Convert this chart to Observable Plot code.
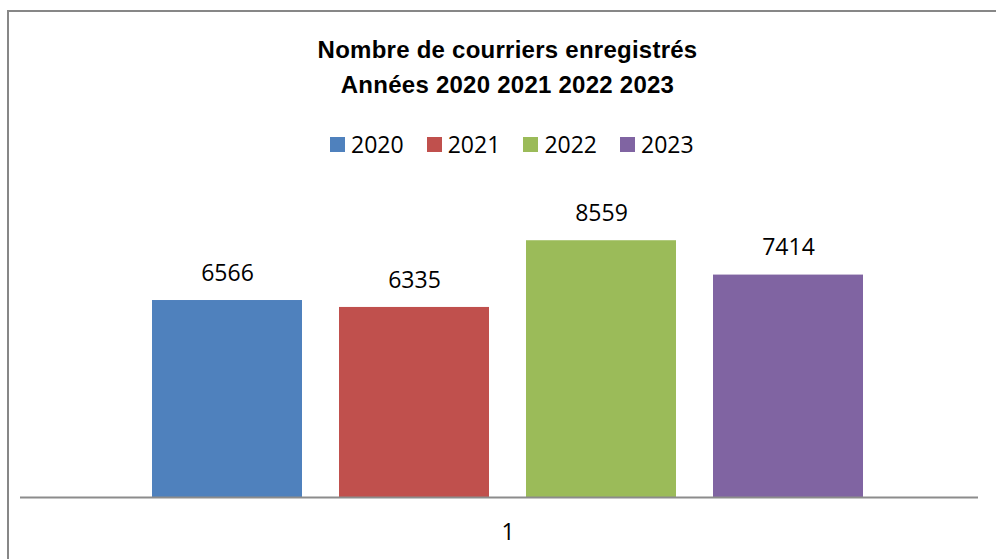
<!DOCTYPE html>
<html>
<head>
<meta charset="utf-8">
<script src="https://cdn.jsdelivr.net/npm/d3@7"></script>
<script src="https://cdn.jsdelivr.net/npm/@observablehq/plot@0.6"></script>
<style>
  html, body { margin: 0; padding: 0; background: #fff; }
  #wrap { position: relative; width: 996px; height: 559px; overflow: hidden; font-family: "Open Sans", "Liberation Sans", sans-serif; }
  #frame { position: absolute; left: 7px; top: 10px; width: 1100px; height: 700px; border: 2px solid #878787; box-sizing: border-box; }
  #title { position: absolute; left: 0; width: 1015px; top: 32px; text-align: center; font-weight: bold; font-size: 24px; line-height: 35px; color: #000; font-family: "Liberation Sans", sans-serif; letter-spacing: 0.25px; }
  #legend { position: absolute; left: 330px; top: 126px; display: flex; font-size: 23px; line-height: 36px; color: #000; }
  #legend .item { display: flex; align-items: center; width: 96.7px; }
  #legend .sw { width: 15px; height: 15px; margin-right: 6px; }
  #chart { position: absolute; left: 0; top: 0; }
</style>
</head>
<body>
<div id="wrap">
  <div id="frame"></div>
  <div id="chart"></div>
  <div id="title">Nombre de courriers enregistrés<br>Années 2020 2021 2022 2023</div>
  <div id="legend"></div>
</div>
<script>
const years = ["2020", "2021", "2022", "2023"];
const values = [6566, 6335, 8559, 7414];
const colors = ["#4F81BD", "#C0504D", "#9BBB59", "#8064A2"];
const categoryLabel = ["1"];

const data = years.map((y, i) => ({year: y, value: values[i]}));

const legend = document.getElementById("legend");
years.forEach((y, i) => {
  const it = document.createElement("div");
  it.className = "item";
  it.innerHTML = `<span class="sw" style="background:${colors[i]}"></span><span>${y}</span>`;
  legend.appendChild(it);
});

const chart = Plot.plot({
  width: 996,
  height: 559,
  marginTop: 197,
  marginBottom: 62,
  marginLeft: 20,
  marginRight: 18,
  style: {fontFamily: "'Open Sans', 'Liberation Sans', sans-serif", background: "transparent"},
  x: {domain: years, range: [113, 902], padding: 0.197, axis: null},
  y: {domain: [0, 10000], axis: null},
  color: {domain: years, range: colors},
  marks: [
    Plot.barY(data, {x: "year", y: "value", fill: "year"}),
    Plot.ruleY([0], {stroke: "#8c8c8c", strokeWidth: 2}),
    Plot.text(data, {x: "year", y: "value", text: d => String(d.value), dy: -27, fontSize: 23, fill: "#000", lineAnchor: "middle"}),
    Plot.text(categoryLabel, {frameAnchor: "bottom", text: d => d, dx: 8.5, dy: 35, fontSize: 23, fill: "#000", lineAnchor: "middle"})
  ]
});
document.getElementById("chart").appendChild(chart);
</script>
</body>
</html>
